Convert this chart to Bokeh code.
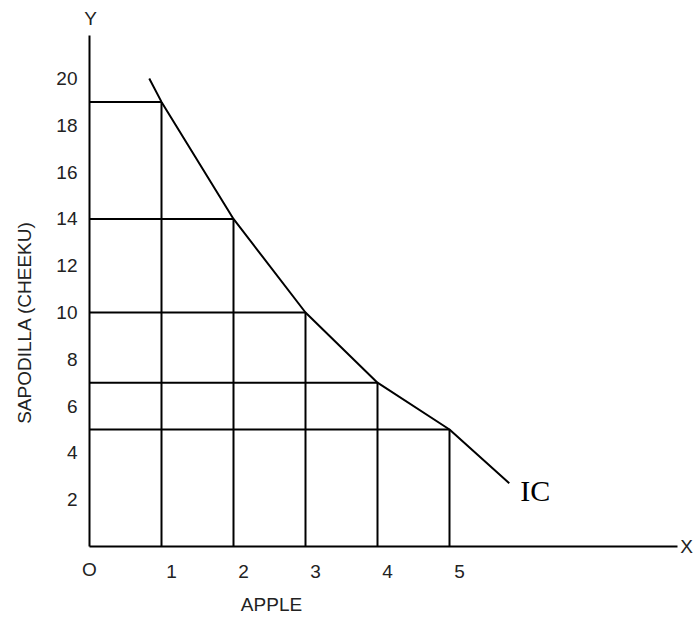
import math
from bokeh.plotting import figure
from bokeh.models import Range1d, FixedTicker, Label, LinearAxis
from bokeh.embed import file_html
from bokeh.resources import INLINE

# ---- data ----
apples = [1, 2, 3, 4, 5]
sapodilla = [19, 14, 10, 7, 5]
# indifference curve
curve_x = [0.83, 1, 2, 3, 4, 5, 5.83]
curve_y = [20.0, 19, 14, 10, 7, 5, 2.7]
y_ticks = [2, 4, 6, 8, 10, 12, 14, 16, 18, 20]
x_ticks = [1, 2, 3, 4, 5]
origin_label = "O"
x_title = "APPLE"
y_title = "SAPODILLA (CHEEKU)"
curve_label = "IC"

# ---- layout (pixels) ----
W, H = 693, 617
X0, Y0 = 89, 546          # pixel position of the origin
SX, SY = 72.0, 23.4       # pixels per unit
X_END_PX, Y_END_PX = 677, 35

def dx(px):
    return (px - X0) / SX

def dy(py):
    return (Y0 - py) / SY

FONT = "Liberation Sans"
TXT = "#222222"
FS = "19px"

p = figure(width=W, height=H, output_backend="svg", toolbar_location=None,
           x_range=Range1d(dx(0), dx(W)), y_range=Range1d(dy(H), dy(0)),
           x_axis_type=None, y_axis_type=None)
p.min_border = 0
p.min_border_left = 0
p.min_border_right = 0
p.min_border_top = 0
p.min_border_bottom = 0
p.outline_line_color = None
p.background_fill_color = "white"
p.border_fill_color = "white"
p.grid.visible = False

x_end = dx(X_END_PX)
y_end = dy(Y_END_PX)

# y axis
ya = LinearAxis(fixed_location=0, bounds=(0, y_end), ticker=FixedTicker(ticks=y_ticks))
ya.axis_line_width = 2
ya.axis_line_color = "black"
ya.major_tick_line_color = None
ya.minor_tick_line_color = None
ya.major_label_standoff = 6
ya.major_label_text_font = FONT
ya.major_label_text_font_size = FS
ya.major_label_text_color = TXT
p.add_layout(ya, "left")

# x axis: line and origin label
xa = LinearAxis(fixed_location=0, bounds=(0, x_end), ticker=FixedTicker(ticks=[0]),
                major_label_overrides={0: origin_label})
xa.axis_line_width = 2
xa.axis_line_color = "black"
xa.major_tick_line_color = None
xa.minor_tick_line_color = None
xa.major_label_standoff = 6
xa.major_label_text_font = FONT
xa.major_label_text_font_size = FS
xa.major_label_text_color = TXT
p.add_layout(xa, "below")

# x tick labels sit a little to the right of the lines
shift = 10 / SX
p.extra_x_ranges = {"lbl": Range1d(dx(0) - shift, dx(W) - shift)}
xl = LinearAxis(x_range_name="lbl", fixed_location=0, bounds=(0, x_end),
                ticker=FixedTicker(ticks=x_ticks))
xl.axis_line_color = None
xl.major_tick_line_color = None
xl.minor_tick_line_color = None
xl.major_label_standoff = 12
xl.major_label_text_font = FONT
xl.major_label_text_font_size = FS
xl.major_label_text_color = TXT
p.add_layout(xl, "below")

# rectangles
p.segment(x0=[0] * len(apples), y0=sapodilla, x1=apples, y1=sapodilla,
          line_color="black", line_width=2)
p.segment(x0=apples, y0=[0] * len(apples), x1=apples, y1=sapodilla,
          line_color="black", line_width=2)

# curve
p.line(curve_x, curve_y, line_color="black", line_width=2)

# titles
p.add_layout(Label(x=dx(271), y=dy(604), text=x_title,
                   text_align="center", text_baseline="middle",
                   text_font=FONT, text_font_size=FS, text_color=TXT))
p.add_layout(Label(x=dx(24), y=dy(322), text=y_title, angle=math.pi / 2,
                   text_align="center", text_baseline="middle",
                   text_font=FONT, text_font_size=FS, text_color=TXT))
p.add_layout(Label(x=0, y=y_end, text="Y", x_offset=1, y_offset=17,
                   text_align="center", text_baseline="middle",
                   text_font=FONT, text_font_size=FS, text_color=TXT))
p.add_layout(Label(x=x_end, y=0, text="X", x_offset=9, y_offset=0,
                   text_align="center", text_baseline="middle",
                   text_font=FONT, text_font_size=FS, text_color=TXT))

# curve label
p.add_layout(Label(x=curve_x[-1], y=curve_y[-1], text=curve_label, x_offset=11, y_offset=-7,
                   text_align="left", text_baseline="middle",
                   text_font="Liberation Serif", text_font_size="30px", text_color="black"))

open("out.html", "w").write(file_html(p, INLINE))
